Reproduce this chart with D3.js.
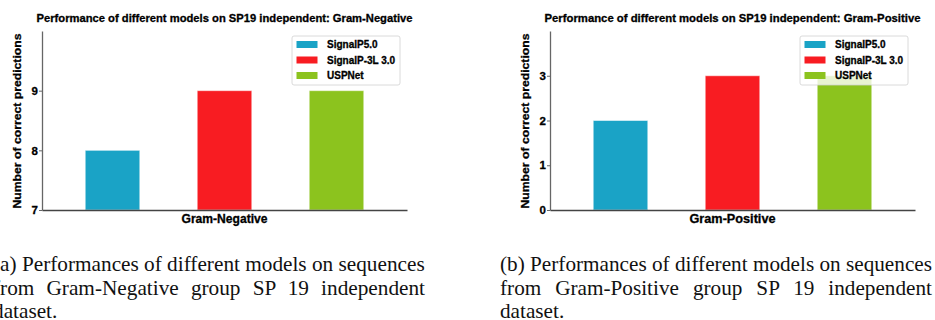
<!DOCTYPE html>
<html>
<head>
<meta charset="utf-8">
<script src="https://cdn.jsdelivr.net/npm/d3@7"></script>
<style>
  body { margin: 0; background: #fff; }
  svg { display: block; }
  .lbl { stroke: #000; stroke-width: 0.3; }
</style>
</head>
<body>
<div id="chart"></div>
<script>
// data
const models = ['SignalP5.0', 'SignalP-3L 3.0', 'USPNet'];
const modelColors = ['#1aa3c6', '#f81c22', '#8cc31e'];

const gramNegValues = [8, 9, 9];
const gramPosValues = [2, 3, 3];

const gramNegDomain = [7, 10];
const gramPosDomain = [0, 4];
const gramNegTicks = [7, 8, 9];
const gramPosTicks = [0, 1, 2, 3];

const panelTitles = [
  'Performance of different models on SP19 independent: Gram-Negative',
  'Performance of different models on SP19 independent: Gram-Positive'
];
const groupLabels = ['Gram-Negative', 'Gram-Positive'];
const yLabel = 'Number of correct predictions';

const captions = [
  ['(a) Performances of different models on sequences',
   'from Gram-Negative group SP 19 independent',
   'dataset.'],
  ['(b) Performances of different models on sequences',
   'from Gram-Positive group SP 19 independent',
   'dataset.']
];

const width = 935, height = 320;
const panelOffset = 508;
const margin = { left: 42, right: 528, top: 31, bottom: 210 };
const sansFont = 'Liberation Sans, Arial, sans-serif';

const svg = d3.select('#chart')
  .append('svg')
  .attr('width', width)
  .attr('height', height);

const panels = [
  { values: gramNegValues, domain: gramNegDomain, ticks: gramNegTicks },
  { values: gramPosValues, domain: gramPosDomain, ticks: gramPosTicks }
];

panels.forEach((p, i) => {
  const g = svg.append('g').attr('transform', `translate(${i * panelOffset}, 0)`);

  const x = d3.scaleBand()
    .domain(models)
    .range([margin.left, width - margin.right])
    .paddingInner(0.513)
    .paddingOuter(0.386);

  const y = d3.scaleLinear()
    .domain(p.domain)
    .range([margin.bottom, margin.top]);

  // bars
  g.selectAll('rect.bar')
    .data(p.values)
    .enter()
    .append('rect')
    .attr('class', 'bar')
    .attr('x', (d, j) => x(models[j]))
    .attr('y', d => y(d))
    .attr('width', x.bandwidth())
    .attr('height', d => y(p.domain[0]) - y(d))
    .attr('fill', (d, j) => modelColors[j])
    .attr('stroke', '#fff')
    .attr('stroke-opacity', 0.5)
    .attr('stroke-width', 1);

  // left spine + ticks
  const yAxis = g.append('g')
    .attr('transform', `translate(${margin.left}, 0)`)
    .call(d3.axisLeft(y)
      .tickValues(p.ticks)
      .tickFormat(d3.format('d'))
      .tickSize(3)
      .tickSizeOuter(0)
      .tickPadding(1));
  yAxis.select('.domain').attr('stroke', '#666').attr('stroke-width', 1.3);
  yAxis.selectAll('.tick line').attr('stroke', '#666');
  yAxis.selectAll('.tick text')
    .attr('class', 'lbl')
    .attr('font-family', sansFont)
    .attr('font-weight', 'bold')
    .attr('font-size', 11.5)
    .attr('fill', '#000');

  // bottom spine
  const xAxis = g.append('g')
    .attr('transform', `translate(0, ${margin.bottom})`)
    .call(d3.axisBottom(x).tickValues([]).tickSizeOuter(0));
  xAxis.select('.domain').attr('stroke', '#444').attr('stroke-width', 1.3);

  const cx = (margin.left + width - margin.right) / 2;

  // title
  g.append('text')
    .attr('class', 'lbl')
    .attr('x', cx)
    .attr('y', 22)
    .attr('text-anchor', 'middle')
    .attr('font-family', sansFont)
    .attr('font-weight', 'bold')
    .attr('font-size', 11)
    .attr('textLength', 376)
    .attr('lengthAdjust', 'spacingAndGlyphs')
    .attr('fill', '#000')
    .text(panelTitles[i]);

  // group label under the axis
  g.append('text')
    .attr('class', 'lbl')
    .attr('x', cx)
    .attr('y', 223)
    .attr('text-anchor', 'middle')
    .attr('font-family', sansFont)
    .attr('font-weight', 'bold')
    .attr('font-size', 12)
    .attr('textLength', 86)
    .attr('lengthAdjust', 'spacingAndGlyphs')
    .attr('fill', '#000')
    .text(groupLabels[i]);

  // y label
  g.append('text')
    .attr('class', 'lbl')
    .attr('transform', `translate(20.5, ${(margin.top + margin.bottom) / 2 + 0.5}) rotate(-90)`)
    .attr('text-anchor', 'middle')
    .attr('font-family', sansFont)
    .attr('font-weight', 'bold')
    .attr('font-size', 11)
    .attr('textLength', 175)
    .attr('lengthAdjust', 'spacingAndGlyphs')
    .attr('fill', '#000')
    .text(yLabel);

  // legend
  const legendW = 108, legendH = 49;
  const lx = width - margin.right - 7 - legendW;
  const legend = g.append('g').attr('transform', `translate(${lx}, 36)`);
  legend.append('rect')
    .attr('width', legendW)
    .attr('height', legendH)
    .attr('rx', 2)
    .attr('fill', '#fff')
    .attr('fill-opacity', 0.8)
    .attr('stroke', '#d0d0d0')
    .attr('stroke-width', 0.8);
  models.forEach((m, j) => {
    const ry = 8.5 + j * 15.5;
    legend.append('rect')
      .attr('x', 4.5)
      .attr('y', ry - 3.5)
      .attr('width', 21)
      .attr('height', 7)
      .attr('fill', modelColors[j]);
    legend.append('text')
      .attr('class', 'lbl')
      .attr('x', 35)
      .attr('y', ry + 3.6)
      .attr('font-family', sansFont)
      .attr('font-weight', 'bold')
      .attr('font-size', 10)
      .attr('fill', '#000')
      .text(m);
  });
});

// captions (serif, justified second line)
const capWidth = 432;
const capX = [-7, 500];
const capBaselines = [270.5, 294.5, 318];

captions.forEach((lines, i) => {
  const texts = lines.map(line =>
    svg.append('text')
      .attr('font-family', 'Liberation Serif, Times New Roman, serif')
      .attr('font-size', 22)
      .attr('fill', '#111')
      .text(line));

  const w0 = texts[0].node().getComputedTextLength();
  const sx = capWidth / w0;

  texts.forEach((t, k) => {
    t.attr('transform', `translate(${capX[i]}, ${capBaselines[k]}) scale(${sx}, 1)`);
  });

  // stretch word gaps on the middle line
  const w1 = texts[1].node().getComputedTextLength();
  const gaps = lines[1].split(' ').length - 1;
  texts[1].attr('word-spacing', (capWidth / sx - w1) / gaps);
});
</script>
</body>
</html>
